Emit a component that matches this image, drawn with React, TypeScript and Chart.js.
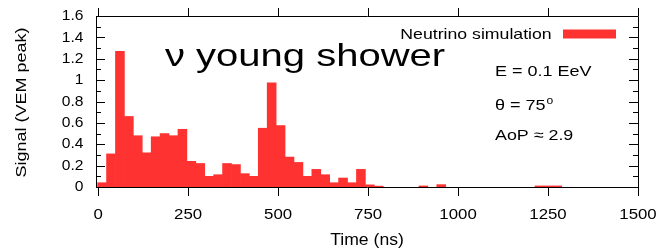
import React, { useEffect, useRef } from "react";
import { Chart, registerables } from "chart.js";

Chart.register(...registerables);

// Histogram: signal per time bin (VEM peak), bins of ~25 ns
const binValues = [
  0.04, 0.31, 1.27, 0.66, 0.48, 0.32, 0.47, 0.5, 0.48, 0.54,
  0.24, 0.22, 0.1, 0.115, 0.22, 0.21, 0.125, 0.1, 0.55, 0.975,
  0.575, 0.28, 0.23, 0.1, 0.165, 0.115, 0.04, 0.084, 0.04, 0.165,
  0.02, 0.008, 0, 0, 0, 0, 0.01, 0, 0.022, 0,
  0, 0, 0, 0, 0, 0, 0, 0, 0, 0.01,
  0.01, 0.01,
];
const firstBinStartNs = -1.5;
const binWidthNs = 24.8;

const xTicks = [0, 250, 500, 750, 1000, 1250, 1500];
const xTickLabels = ["0", "250", "500", "750", "1000", "1250", "1500"];
const yTicks = [0, 0.2, 0.4, 0.6, 0.8, 1, 1.2, 1.4, 1.6];
const yTickLabels = ["0", "0.2", "0.4", "0.6", "0.8", "1", "1.2", "1.4", "1.6"];
const yMinorTicks = [0.1, 0.3, 0.5, 0.7, 0.9, 1.1, 1.3, 1.5];

const seriesLabel = "Neutrino simulation";
const titleText = "\u03bd young shower";
const xTitle = "Time (ns)";
const yTitle = "Signal (VEM peak)";
const energyText = "E = 0.1 EeV";
const thetaText = "\u03b8 = 75";
const thetaSup = "o";
const aopText = "AoP \u2248 2.9";

const RED = "rgb(255,50,50)";
const FONT = '"Liberation Sans", Arial, Helvetica, sans-serif';

function drawText(
  ctx: CanvasRenderingContext2D,
  text: string,
  x: number,
  y: number,
  size: number,
  align: CanvasTextAlign,
  sx: number,
  baseline: CanvasTextBaseline = "alphabetic",
  rotate = false
) {
  ctx.save();
  ctx.translate(x, y);
  if (rotate) ctx.rotate(-Math.PI / 2);
  ctx.scale(sx, 1);
  ctx.font = `${size}px ${FONT}`;
  ctx.fillStyle = "#000";
  ctx.textAlign = align;
  ctx.textBaseline = baseline;
  ctx.fillText(text, 0, 0);
  const w = ctx.measureText(text).width * sx;
  ctx.restore();
  return w;
}

const framePlugin = {
  id: "gnuplotFrame",
  afterDatasetsDraw(chart: any) {
    const ctx: CanvasRenderingContext2D = chart.ctx;
    const { left, right, top, bottom } = chart.chartArea;
    const xs = chart.scales.x;
    const ys = chart.scales.y;
    ctx.save();
    ctx.strokeStyle = "#000";
    ctx.lineWidth = 1;
    ctx.beginPath();
    ctx.rect(Math.round(left) + 0.5, Math.round(top) + 0.5, Math.round(right - left), Math.round(bottom - top));
    ctx.stroke();

    ctx.beginPath();
    xTicks.forEach((v) => {
      const px = Math.round(xs.getPixelForValue(v)) + 0.5;
      ctx.moveTo(px, bottom);
      ctx.lineTo(px, bottom + 9);
      ctx.moveTo(px, top);
      ctx.lineTo(px, top - 8);
    });
    yTicks.forEach((v) => {
      const py = Math.round(ys.getPixelForValue(v)) + 0.5;
      ctx.moveTo(left, py);
      ctx.lineTo(left + 9, py);
      ctx.moveTo(right, py);
      ctx.lineTo(right - 9, py);
    });
    yMinorTicks.forEach((v) => {
      const py = Math.round(ys.getPixelForValue(v)) + 0.5;
      ctx.moveTo(left, py);
      ctx.lineTo(left + 5, py);
      ctx.moveTo(right, py);
      ctx.lineTo(right - 5, py);
    });
    ctx.stroke();
    ctx.restore();

    yTicks.forEach((v, i) => {
      drawText(ctx, yTickLabels[i], left - 12.5, ys.getPixelForValue(v), 15, "right", 1.04, "middle");
    });
    xTicks.forEach((v, i) => {
      drawText(ctx, xTickLabels[i], xs.getPixelForValue(v), 219, 15, "center", 1.12);
    });

    drawText(ctx, xTitle, (left + right) / 2, 245, 16, "center", 1.1);
    drawText(ctx, yTitle, 26, 102.5, 15.5, "center", 1.16, "alphabetic", true);

    drawText(ctx, titleText, 165, 66, 32, "left", 1.25);

    drawText(ctx, seriesLabel, 551.7, 39, 14.5, "right", 1.22);
    ctx.save();
    ctx.fillStyle = RED;
    ctx.fillRect(563, 29.5, 53, 9);
    ctx.restore();

    drawText(ctx, energyText, 495, 76, 15, "left", 1.2);
    const tw = drawText(ctx, thetaText, 495, 110, 15, "left", 1.2);
    drawText(ctx, thetaSup, 495 + tw + 1, 104, 11, "left", 1.1);
    drawText(ctx, aopText, 495, 140, 15, "left", 1.19);
  },
};

export default function App() {
  const canvasRef = useRef<HTMLCanvasElement | null>(null);

  useEffect(() => {
    const canvas = canvasRef.current;
    if (!canvas) return;
    const points = binValues.map((v, k) => ({
      x: firstBinStartNs + binWidthNs * (k + 0.5),
      y: v === 0 ? null : v,
    }));
    const chart = new Chart(canvas, {
      type: "bar",
      data: {
        datasets: [
          {
            label: seriesLabel,
            data: points as any,
            backgroundColor: RED,
            borderWidth: 0,
            barPercentage: 1,
            categoryPercentage: 1,
          },
        ],
      },
      options: {
        responsive: false,
        animation: false,
        skipNull: true,
        layout: { padding: { left: 96, right: 26, top: 16, bottom: 64 } },
        plugins: {
          legend: { display: false },
          tooltip: { enabled: false },
          title: { display: false },
        },
        scales: {
          x: {
            type: "linear",
            display: false,
            min: -6,
            max: 1500,
            offset: false,
          },
          y: {
            type: "linear",
            display: false,
            min: 0,
            max: 1.6,
          },
        },
      } as any,
      plugins: [framePlugin],
    });
    return () => chart.destroy();
  }, []);

  return (
    <div style={{ position: "absolute", left: 0, top: 0, width: 664, height: 251, background: "#fff" }}>
      <canvas ref={canvasRef} width={664} height={251} style={{ display: "block" }} />
    </div>
  );
}
